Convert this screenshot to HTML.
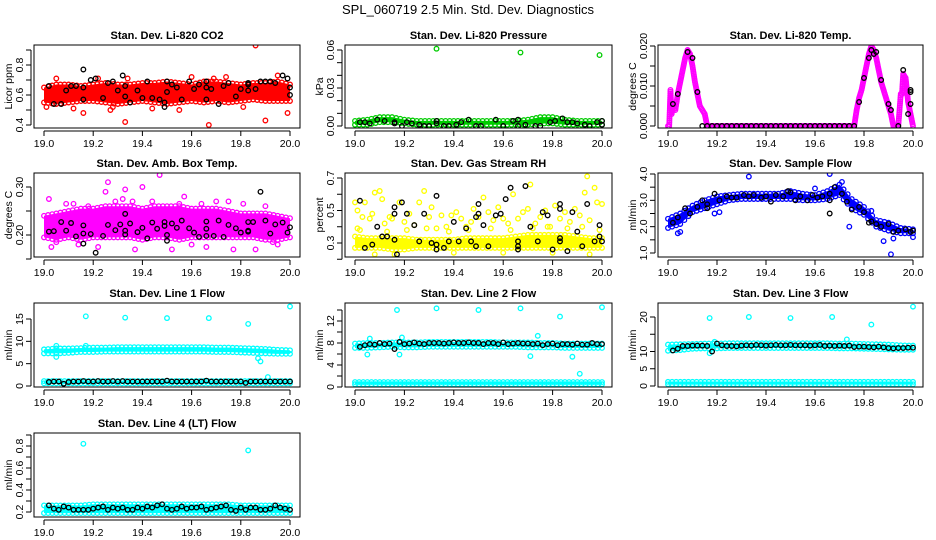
<!DOCTYPE html>
<html><head><meta charset="utf-8">
<style>
html,body{margin:0;padding:0;background:#fff;}
svg{display:block;font-family:"Liberation Sans",Arial,sans-serif;}
</style></head>
<body>
<svg id="chart" width="936" height="540" viewBox="0 0 936 540">
<text x="468" y="14" text-anchor="middle" font-size="13">SPL_060719  2.5 Min. Std. Dev. Diagnostics</text>
</svg>
<script>
const xTicks=[19.0,19.2,19.4,19.6,19.8,20.0];
const xTickLabels=["19.0","19.2","19.4","19.6","19.8","20.0"];
const bandX=[19.0,19.05,19.1,19.15,19.2,19.25,19.3,19.35,19.4,19.45,19.5,19.55,19.6,19.65,19.7,19.75,19.8,19.85,19.9,19.95,20.0];
const gridX=[19.02,19.04,19.06,19.08,19.1,19.12,19.14,19.16,19.18,19.2,19.22,19.24,19.26,19.28,19.3,19.32,19.34,19.36,19.38,19.4,19.42,19.44,19.46,19.48,19.5,19.52,19.54,19.56,19.58,19.6,19.62,19.64,19.66,19.68,19.7,19.72,19.74,19.76,19.78,19.8,19.82,19.84,19.86,19.88,19.9,19.92,19.94,19.96,19.98,20.0];

// Panel 1: CO2
const co2Lo=[0.55,0.54,0.55,0.56,0.56,0.55,0.54,0.55,0.56,0.55,0.54,0.55,0.56,0.55,0.56,0.55,0.56,0.57,0.56,0.56,0.56];
const co2Hi=[0.65,0.67,0.67,0.66,0.67,0.68,0.67,0.67,0.68,0.68,0.69,0.68,0.67,0.69,0.69,0.68,0.67,0.68,0.68,0.69,0.67];
const co2OutX=[19.86,19.33,19.67,19.90,19.99,19.27,19.16,19.95,19.60,19.05,19.34,19.69,19.01,19.28,19.12,19.44,19.55,19.74,19.81,19.22];
const co2OutY=[0.93,0.42,0.40,0.43,0.48,0.50,0.48,0.73,0.72,0.71,0.71,0.71,0.52,0.52,0.51,0.51,0.50,0.72,0.52,0.71];
const co2BlkX=[19.02,19.04,19.07,19.09,19.11,19.13,19.16,19.16,19.16,19.19,19.21,19.24,19.26,19.28,19.30,19.32,19.33,19.33,19.35,19.38,19.40,19.42,19.44,19.47,19.49,19.49,19.50,19.50,19.52,19.54,19.56,19.59,19.61,19.63,19.66,19.66,19.66,19.68,19.71,19.73,19.75,19.78,19.80,19.83,19.83,19.83,19.86,19.88,19.90,19.92,19.94,19.97,19.99,20.0,20.0];
const co2BlkY=[0.66,0.54,0.54,0.63,0.66,0.66,0.77,0.65,0.57,0.70,0.71,0.58,0.68,0.69,0.63,0.73,0.66,0.59,0.55,0.63,0.58,0.69,0.58,0.57,0.55,0.52,0.62,0.69,0.67,0.65,0.57,0.69,0.64,0.67,0.69,0.65,0.57,0.64,0.54,0.66,0.68,0.59,0.64,0.67,0.63,0.68,0.64,0.69,0.69,0.69,0.68,0.73,0.71,0.65,0.60];

// Panel 2: pressure
const prLo=[0.001,0.001,0.003,0.003,0.002,0.001,0.001,0.001,0.001,0.001,0.001,0.001,0.001,0.001,0.001,0.002,0.002,0.001,0.001,0.001,0.001];
const prHi=[0.004,0.005,0.007,0.007,0.005,0.004,0.004,0.004,0.004,0.004,0.004,0.004,0.004,0.004,0.005,0.007,0.007,0.005,0.004,0.004,0.004];
const prOutX=[19.33,19.67,19.99];
const prOutY=[0.061,0.058,0.056];
const prBlkX=[19.02,19.04,19.06,19.09,19.12,19.16,19.16,19.19,19.21,19.23,19.26,19.28,19.30,19.33,19.33,19.36,19.38,19.41,19.43,19.46,19.49,19.51,19.57,19.60,19.64,19.66,19.66,19.69,19.73,19.75,19.79,19.81,19.84,19.86,19.88,19.90,19.93,19.95,19.98,20.0,20.0];
const prBlkY=[0.003,0.003,0.002,0.005,0.004,0.003,0.002,0,0.003,0.002,0.001,0,0,0.002,0.004,0,0,0.001,0.003,0.005,0,0,0.005,0,0.004,0.005,0,0.001,0,0,0.003,0.004,0.006,0.003,0.003,0.002,0.001,0,0.003,0.004,0.001];

// Panel 3: Li-820 temp
const tmpX=[19.0,19.005,19.01,19.015,19.02,19.03,19.04,19.05,19.06,19.07,19.08,19.09,19.10,19.11,19.12,19.13,19.14,19.15,19.16,19.18,19.20,19.22,19.24,19.26,19.28,19.30,19.32,19.34,19.36,19.38,19.40,19.42,19.44,19.46,19.48,19.50,19.52,19.54,19.56,19.58,19.60,19.62,19.64,19.66,19.68,19.70,19.72,19.74,19.76,19.765,19.77,19.78,19.79,19.80,19.81,19.82,19.83,19.84,19.85,19.86,19.87,19.88,19.89,19.90,19.91,19.92,19.93,19.94,19.95,19.955,19.96,19.97,19.975,19.98,19.99,20.0];
const tmpY=[0,0,0.009,0.003,0.005,0.004,0.008,0.011,0.014,0.017,0.019,0.018,0.015,0.011,0.008,0.005,0.004,0.003,0,0,0,0,0,0,0,0,0,0,0,0,0,0,0,0,0,0,0,0,0,0,0,0,0,0,0,0,0,0,0,0.002,0.004,0.007,0.009,0.012,0.015,0.018,0.020,0.019,0.017,0.014,0.011,0.009,0.007,0.005,0.003,0,0,0,0.008,0.008,0.013,0.012,0.009,0.006,0.003,0];
const tmpBlkX=[19.02,19.04,19.08,19.10,19.12,19.14,19.16,19.18,19.20,19.22,19.24,19.26,19.28,19.30,19.32,19.34,19.36,19.38,19.40,19.42,19.44,19.46,19.48,19.50,19.52,19.54,19.56,19.58,19.60,19.62,19.64,19.66,19.68,19.70,19.72,19.74,19.76,19.78,19.80,19.82,19.83,19.84,19.85,19.87,19.90,19.91,19.94,19.96,19.99,19.99,19.99,19.98];
const tmpBlkY=[0.0055,0.008,0.0185,0.017,0.0085,0,0,0,0,0,0,0,0,0,0,0,0,0,0,0,0,0,0,0,0,0,0,0,0,0,0,0,0,0,0,0,0,0.006,0.012,0.017,0.019,0.018,0.0185,0.0115,0.0055,0.004,0,0.014,0.009,0.0085,0.0055,0.003];

// Panel 4: amb box temp
const ambLo=[0.195,0.19,0.195,0.19,0.195,0.195,0.195,0.195,0.19,0.195,0.195,0.19,0.195,0.195,0.195,0.195,0.195,0.195,0.19,0.19,0.195];
const ambHi=[0.24,0.245,0.25,0.255,0.255,0.26,0.26,0.26,0.255,0.26,0.26,0.26,0.255,0.255,0.255,0.25,0.245,0.245,0.245,0.24,0.235];
const ambOutX=[19.02,19.09,19.18,19.25,19.26,19.33,19.40,19.47,19.32,19.37,19.52,19.57,19.66,19.75,19.77,19.86,19.90,19.03,19.22,19.05,19.14,19.29,19.44,19.60,19.70,19.81,19.95,19.12,19.36,19.55,19.64,19.93];
const ambOutY=[0.275,0.265,0.26,0.29,0.31,0.295,0.30,0.325,0.275,0.17,0.17,0.28,0.175,0.27,0.17,0.17,0.26,0.175,0.175,0.185,0.18,0.27,0.27,0.18,0.27,0.265,0.18,0.265,0.27,0.265,0.265,0.185];
const ambBlkX=[19.02,19.04,19.07,19.09,19.11,19.13,19.16,19.16,19.16,19.19,19.21,19.24,19.26,19.29,19.31,19.33,19.33,19.33,19.35,19.38,19.40,19.42,19.44,19.46,19.49,19.49,19.50,19.50,19.52,19.54,19.56,19.59,19.61,19.63,19.66,19.66,19.66,19.69,19.71,19.73,19.75,19.78,19.80,19.83,19.83,19.83,19.85,19.88,19.90,19.92,19.94,19.97,19.99,20.0];
const ambBlkY=[0.207,0.208,0.227,0.209,0.225,0.197,0.22,0.203,0.182,0.202,0.163,0.198,0.221,0.21,0.222,0.244,0.209,0.201,0.224,0.206,0.215,0.193,0.226,0.213,0.227,0.219,0.2,0.188,0.224,0.215,0.23,0.214,0.205,0.196,0.228,0.213,0.198,0.198,0.23,0.196,0.221,0.214,0.205,0.227,0.209,0.207,0.227,0.29,0.23,0.203,0.222,0.226,0.205,0.216];

// Panel 5: RH
const rhLo=[0.27,0.27,0.27,0.26,0.26,0.27,0.27,0.27,0.27,0.27,0.27,0.27,0.27,0.27,0.27,0.27,0.27,0.27,0.27,0.27,0.27];
const rhHi=[0.34,0.33,0.33,0.33,0.33,0.32,0.32,0.32,0.32,0.33,0.33,0.33,0.33,0.34,0.35,0.35,0.35,0.35,0.34,0.33,0.33];
const rhOutX=[19.00,19.01,19.01,19.03,19.04,19.06,19.07,19.08,19.10,19.11,19.12,19.14,19.15,19.18,19.20,19.22,19.24,19.26,19.28,19.30,19.31,19.33,19.35,19.37,19.39,19.41,19.43,19.45,19.47,19.48,19.50,19.52,19.54,19.56,19.58,19.60,19.62,19.64,19.66,19.68,19.70,19.71,19.73,19.75,19.77,19.79,19.81,19.83,19.85,19.87,19.89,19.91,19.93,19.94,19.95,19.97,19.98,20.0,19.08,19.16,19.40,19.60,19.80,19.95,19.02,19.13,19.21,19.29,19.38,19.46,19.55,19.63,19.72,19.78,19.86,19.92,19.99];
const rhOutY=[0.55,0.50,0.39,0.46,0.55,0.45,0.48,0.61,0.62,0.57,0.42,0.46,0.45,0.55,0.43,0.48,0.41,0.55,0.62,0.46,0.52,0.39,0.47,0.40,0.47,0.49,0.45,0.40,0.43,0.51,0.46,0.58,0.49,0.44,0.52,0.45,0.42,0.60,0.45,0.49,0.51,0.66,0.42,0.46,0.50,0.40,0.53,0.45,0.49,0.43,0.51,0.47,0.61,0.71,0.44,0.64,0.55,0.54,0.23,0.23,0.24,0.24,0.24,0.23,0.38,0.37,0.38,0.39,0.37,0.38,0.39,0.38,0.39,0.40,0.39,0.40,0.38];
const rhBlkX=[19.02,19.04,19.07,19.09,19.11,19.13,19.16,19.16,19.16,19.17,19.19,19.21,19.24,19.26,19.28,19.31,19.33,19.33,19.33,19.36,19.38,19.40,19.42,19.45,19.47,19.49,19.49,19.50,19.50,19.52,19.54,19.57,19.59,19.61,19.63,19.66,19.66,19.66,19.69,19.71,19.74,19.76,19.78,19.80,19.83,19.83,19.83,19.83,19.86,19.88,19.90,19.92,19.94,19.97,19.99,19.99,20.0];
const rhBlkY=[0.56,0.27,0.29,0.40,0.34,0.34,0.52,0.48,0.32,0.23,0.55,0.48,0.41,0.31,0.48,0.30,0.59,0.29,0.26,0.27,0.31,0.43,0.31,0.39,0.31,0.46,0.28,0.48,0.54,0.41,0.28,0.47,0.48,0.57,0.64,0.31,0.28,0.26,0.65,0.40,0.31,0.49,0.47,0.26,0.54,0.51,0.33,0.31,0.25,0.49,0.37,0.28,0.54,0.31,0.41,0.34,0.31];

// Panel 6: sample flow
const sfLo=[1.95,2.1,2.55,2.7,2.85,3.0,3.05,3.05,3.05,3.05,3.05,3.0,3.0,3.05,3.2,2.7,2.45,2.0,1.85,1.75,1.75];
const sfHi=[2.3,2.5,2.8,3.0,3.15,3.2,3.25,3.25,3.25,3.25,3.35,3.25,3.2,3.35,3.6,3.05,2.75,2.25,2.15,1.95,1.9];
const sfOutX=[19.33,19.66,19.71,19.04,19.05,19.19,19.21,19.74,19.83,19.88,19.91,19.92,20.0,19.6];
const sfOutY=[3.9,4.0,3.7,1.75,1.8,2.5,2.55,2.0,2.6,1.45,0.95,1.55,1.6,3.45];
const sfBlkX=[19.02,19.04,19.07,19.09,19.12,19.14,19.16,19.16,19.19,19.21,19.24,19.26,19.28,19.31,19.33,19.35,19.38,19.40,19.42,19.44,19.47,19.49,19.50,19.52,19.54,19.57,19.59,19.61,19.63,19.66,19.66,19.66,19.68,19.71,19.73,19.75,19.78,19.80,19.82,19.83,19.85,19.87,19.90,19.92,19.94,19.97,19.99,20.0];
const sfBlkY=[2.15,2.35,2.7,2.5,2.75,3.0,2.85,2.7,3.25,3.0,3.15,3.1,3.1,3.2,3.15,3.2,3.1,3.15,2.95,3.2,3.15,3.35,3.3,3.0,3.15,3.0,3.2,3.1,3.15,3.25,2.5,3.0,3.5,3.25,2.95,2.65,2.75,2.55,2.15,2.2,2.1,2.0,2.1,1.8,1.85,1.9,1.8,1.85];

// Panel 7: Line 1
const l1aLo=[7.3,7.3,7.4,7.6,7.6,7.7,7.7,7.7,7.7,7.7,7.7,7.7,7.7,7.7,7.6,7.6,7.5,7.4,7.3,7.2,7.2];
const l1aHi=[8.2,8.4,8.4,8.5,8.6,8.6,8.7,8.7,8.7,8.7,8.7,8.7,8.7,8.7,8.6,8.6,8.5,8.4,8.3,8.1,8.0];
const l1bLo=[0.6,0.6,0.6,0.6,0.6,0.6,0.6,0.6,0.6,0.6,0.6,0.6,0.6,0.6,0.6,0.6,0.6,0.6,0.6,0.6,0.6];
const l1bHi=[1.1,1.1,1.1,1.1,1.1,1.1,1.1,1.1,1.1,1.1,1.1,1.1,1.1,1.1,1.1,1.1,1.1,1.1,1.1,1.1,1.1];
const l1OutX=[19.17,19.33,19.5,19.67,19.83,20.0,19.05,19.88,19.87,19.91,19.05,19.17];
const l1OutY=[15.6,15.3,15.2,15.2,13.9,17.8,6.5,5.5,6.2,2.0,9.0,9.0];
const l1BlkY=[0.9,1.0,1.0,0.5,0.9,1.0,1.0,1.1,1.0,1.0,1.1,1.0,1.0,1.1,1.0,1.1,1.0,1.0,1.0,1.0,1.0,1.0,1.0,1.0,1.2,1.0,1.0,1.0,1.0,1.0,1.0,1.0,1.2,1.0,1.0,1.0,1.0,1.0,1.0,1.0,0.7,1.0,1.0,1.0,1.0,1.0,1.0,1.0,1.0,1.0];

// Panel 8: Line 2
const l2aLo=[7.1,7.1,7.2,7.3,7.2,7.2,7.3,7.3,7.3,7.3,7.3,7.3,7.3,7.3,7.2,7.2,7.2,7.1,7.1,7.1,7.1];
const l2aHi=[7.9,8.0,8.0,8.1,8.1,8.1,8.2,8.2,8.2,8.2,8.2,8.2,8.1,8.1,8.1,8.0,8.0,7.9,7.9,7.9,7.9];
const l2bLo=[0.5,0.5,0.5,0.5,0.5,0.5,0.5,0.5,0.5,0.5,0.5,0.5,0.5,0.5,0.5,0.5,0.5,0.5,0.5,0.5,0.5];
const l2bHi=[0.9,0.9,0.9,0.9,0.9,0.9,0.9,0.9,0.9,0.9,0.9,0.9,0.9,0.9,0.9,0.9,0.9,0.9,0.9,0.9,0.9];
const l2OutX=[19.17,19.33,19.5,19.67,19.83,20.0,19.05,19.06,19.18,19.19,19.71,19.74,19.88,19.91];
const l2OutY=[14.0,14.3,14.0,14.3,12.8,14.5,5.9,8.8,5.9,9.0,5.6,9.3,5.5,2.4];
const l2BlkY=[7.3,7.6,7.8,7.7,8.0,7.8,7.9,6.9,8.2,7.8,7.9,8.1,7.9,7.8,8.0,8.0,8.0,7.9,8.0,8.1,8.0,8.0,8.1,8.0,8.0,7.8,8.0,8.0,7.8,8.1,7.8,7.9,8.0,7.9,7.9,7.8,7.9,7.6,7.8,7.9,7.6,7.8,7.8,7.7,7.9,7.7,7.7,8.0,7.8,7.8];

// Panel 9: Line 3
const l3aLo=[10.2,10.4,10.8,10.9,10.9,11.0,11.0,11.0,11.0,11.0,11.0,11.0,11.0,11.0,10.9,10.9,10.8,10.7,10.6,10.5,10.5];
const l3aHi=[12.0,12.1,12.2,12.3,12.3,12.4,12.4,12.4,12.4,12.4,12.4,12.4,12.4,12.4,12.3,12.3,12.2,12.1,12.0,11.8,11.7];
const l3bLo=[0.5,0.5,0.5,0.5,0.5,0.5,0.5,0.5,0.5,0.5,0.5,0.5,0.5,0.5,0.5,0.5,0.5,0.5,0.5,0.5,0.5];
const l3bHi=[1.2,1.2,1.2,1.2,1.2,1.2,1.2,1.2,1.2,1.2,1.2,1.2,1.2,1.2,1.2,1.2,1.2,1.2,1.2,1.2,1.2];
const l3OutX=[19.17,19.33,19.5,19.67,19.83,20.0,19.17,19.19,19.73];
const l3OutY=[19.7,20.0,19.7,20.0,17.8,23.0,9.5,12.8,13.5];
const l3BlkY=[10.3,10.8,11.6,11.6,11.7,11.7,11.7,11.6,10.0,12.3,11.8,11.6,11.6,11.5,11.7,11.8,11.7,11.9,11.8,11.7,11.8,11.9,11.8,11.8,11.9,11.8,11.8,11.8,11.7,11.8,11.9,11.6,11.7,11.6,11.7,11.6,11.7,11.3,11.4,11.4,11.3,11.2,11.4,11.2,11.0,10.9,11.0,11.0,11.1,11.1];

// Panel 10: Line 4
const l4Lo=[0.19,0.19,0.19,0.19,0.19,0.19,0.19,0.19,0.19,0.19,0.19,0.19,0.19,0.19,0.19,0.19,0.19,0.19,0.19,0.19,0.19];
const l4Hi=[0.26,0.26,0.26,0.26,0.27,0.27,0.27,0.27,0.27,0.27,0.27,0.27,0.27,0.27,0.27,0.27,0.26,0.26,0.26,0.26,0.26];
const l4OutX=[19.16,19.5,19.83];
const l4OutY=[0.82,0.94,0.76];
const l4BlkY=[0.26,0.23,0.22,0.25,0.24,0.22,0.22,0.22,0.22,0.23,0.24,0.25,0.22,0.24,0.23,0.24,0.22,0.22,0.24,0.23,0.25,0.24,0.26,0.27,0.23,0.22,0.23,0.25,0.23,0.24,0.24,0.25,0.22,0.23,0.24,0.25,0.26,0.22,0.21,0.24,0.22,0.24,0.24,0.22,0.22,0.23,0.26,0.24,0.23,0.22];

const NS="http://www.w3.org/2000/svg";
const svg=document.getElementById('chart');
function mk(tag,attrs,parent){const e=document.createElementNS(NS,tag);for(const k in attrs)e.setAttribute(k,attrs[k]);(parent||svg).appendChild(e);return e;}

const cols=[[34,300],[345,612],[658,923]];
const rows=[[45,128],[173,257],[303,387],[433,517]];
const RAD=2.3, SW=1.3;

function panel(o){
  const [L,R]=cols[o.c],[T,B]=rows[o.r];
  const g=mk('g',{});
  
  
  const xs=v=>L+10+(v-19)*(R-L-20);
  const ys=v=>o.cal[1]+(v-o.cal[0])*(o.cal[3]-o.cal[1])/(o.cal[2]-o.cal[0]);
  const clip='clip'+o.name;
  const cp=mk('clipPath',{id:clip},g);mk('rect',{x:L,y:T,width:R-L,height:B-T},cp);
  const pg=mk('g',{'clip-path':'url(#'+clip+')'},g);
  (o.bands||[]).forEach(([lo,hi])=>{
    let pts=bandX.map((x,i)=>xs(x)+','+ys(hi[i]));
    pts=pts.concat(bandX.map((x,i)=>xs(x)+','+ys(lo[i])).reverse());
    const p=mk('polygon',{points:pts.join(' '),fill:o.color},pg);
    
    
    for(let i=0;i<bandX.length;i++){
      for(let k=0;k<3;k++){
        const x0=bandX[i]+k*0.0167; if(x0>20.001)continue;
        const j=Math.min(i+1,bandX.length-1),f=k/3;
        const l=lo[i]+(lo[j]-lo[i])*f,h=hi[i]+(hi[j]-hi[i])*f;
        [l,h].forEach(v=>{const c=mk('circle',{cx:xs(x0),cy:ys(v),r:RAD,fill:'none',stroke:o.color,'stroke-width':SW},pg);
          
          });
      }
    }
  });
  const pts=(X,Y,col,nm)=>X.forEach((x,i)=>{const c=mk('circle',{cx:xs(x),cy:ys(Y[i]),r:RAD,fill:'none',stroke:col,'stroke-width':SW},pg);
    
    });
  if(o.pts){
    const X=o.pts[0],Y=o.pts[1];
    // dense fill between consecutive readings
    for(let i=0;i<X.length-1;i++){
      const px=xs(X[i]),py=ys(Y[i]),qx=xs(X[i+1]),qy=ys(Y[i+1]);
      const n=Math.max(1,Math.ceil(Math.hypot(qx-px,qy-py)/2));
      for(let k=1;k<n;k++){const c=mk('circle',{cx:px+(qx-px)*k/n,cy:py+(qy-py)*k/n,r:RAD,fill:'none',stroke:o.color,'stroke-width':SW},pg);
        
        }
    }
    pts(X,Y,o.color,'series-point');
  }
  if(o.out)pts(o.out[0],o.out[1],o.color,'outlier-point');
  if(o.blk)pts(o.blk[0],o.blk[1],'#000','reference-point');
  const box=mk('rect',{x:L,y:T,width:R-L,height:B-T,fill:'none',stroke:'#000','stroke-width':1},g);
  
  
  const t=mk('text',{x:(L+R)/2,y:T-6,'text-anchor':'middle','font-size':11,'font-weight':'bold'},g);t.textContent=o.title;
  
  
  mk('line',{x1:xs(19),x2:xs(20),y1:B+3,y2:B+3,stroke:'#000'},g);
  xTicks.forEach((v,i)=>{mk('line',{x1:xs(v),x2:xs(v),y1:B+3,y2:B+8,stroke:'#000'},g);
    const tx=mk('text',{x:xs(v),y:B+19,'text-anchor':'middle','font-size':10.5},g);tx.textContent=xTickLabels[i];
    
    });
  const yt=o.yTicks;
  mk('line',{x1:L-3,x2:L-3,y1:ys(yt[0]),y2:ys(yt[yt.length-1]),stroke:'#000'},g);
  yt.forEach(v=>mk('line',{x1:L-8,x2:L-3,y1:ys(v),y2:ys(v),stroke:'#000'},g));
  o.yLabels.forEach(v=>{const yy=ys(v);const tx=mk('text',{x:L-11,y:yy,'text-anchor':'middle','font-size':10.5,transform:'rotate(-90 '+(L-11)+' '+yy+')'},g);
    tx.textContent=o.fmt(v);
    
    });
  const ym=(T+B)/2;
  const yl=mk('text',{x:L-22,y:ym,'text-anchor':'middle','font-size':10.5,transform:'rotate(-90 '+(L-22)+' '+ym+')'},g);yl.textContent=o.ylab;
  
  
}
const f=d=>v=>v.toFixed(d);
panel({name:'panel-co2',c:0,r:0,title:'Stan. Dev. Li-820 CO2',ylab:'Licor ppm',color:'#ff0000',cal:[0.4,125,0.8,65],yTicks:[0.4,0.5,0.6,0.7,0.8,0.9],yLabels:[0.4,0.6,0.8],fmt:f(1),bands:[[co2Lo,co2Hi]],out:[co2OutX,co2OutY],blk:[co2BlkX,co2BlkY]});
panel({name:'panel-pressure',c:1,r:0,title:'Stan. Dev. Li-820 Pressure',ylab:'kPa',color:'#00cc00',cal:[0,126,0.06,50],yTicks:[0,0.01,0.02,0.03,0.04,0.05,0.06],yLabels:[0,0.03,0.06],fmt:f(2),bands:[[prLo,prHi]],out:[prOutX,prOutY],blk:[prBlkX,prBlkY]});
panel({name:'panel-li820-temp',c:2,r:0,title:'Stan. Dev. Li-820 Temp.',ylab:'degrees C',color:'#ff00ff',cal:[0,126,0.02,46],yTicks:[0,0.005,0.01,0.015,0.02],yLabels:[0,0.01,0.02],fmt:f(3),pts:[tmpX,tmpY],blk:[tmpBlkX,tmpBlkY]});
panel({name:'panel-amb-temp',c:0,r:1,title:'Stan. Dev. Amb. Box Temp.',ylab:'degrees C',color:'#ff00ff',cal:[0.2,235,0.3,187],yTicks:[0.15,0.2,0.25,0.3],yLabels:[0.2,0.3],fmt:f(2),bands:[[ambLo,ambHi]],out:[ambOutX,ambOutY],blk:[ambBlkX,ambBlkY]});
panel({name:'panel-rh',c:1,r:1,title:'Stan. Dev. Gas Stream RH',ylab:'percent',color:'#ffff00',cal:[0.3,243,0.7,178],yTicks:[0.2,0.3,0.4,0.5,0.6,0.7],yLabels:[0.3,0.5,0.7],fmt:f(1),bands:[[rhLo,rhHi]],out:[rhOutX,rhOutY],blk:[rhBlkX,rhBlkY]});
panel({name:'panel-sample-flow',c:2,r:1,title:'Stan. Dev. Sample Flow',ylab:'ml/min',color:'#0000ff',cal:[1,253,4,174],yTicks:[1,1.5,2,2.5,3,3.5,4],yLabels:[1,2,3,4],fmt:f(1),bands:[[sfLo,sfHi]],out:[sfOutX,sfOutY],blk:[sfBlkX,sfBlkY]});
panel({name:'panel-line1',c:0,r:2,title:'Stan. Dev. Line 1 Flow',ylab:'ml/min',color:'#00ffff',cal:[0,386,15,319],yTicks:[0,5,10,15],yLabels:[0,5,10,15],fmt:f(0),bands:[[l1aLo,l1aHi],[l1bLo,l1bHi]],out:[l1OutX,l1OutY],blk:[gridX,l1BlkY]});
panel({name:'panel-line2',c:1,r:2,title:'Stan. Dev. Line 2 Flow',ylab:'ml/min',color:'#00ffff',cal:[0,387,12,321],yTicks:[0,2,4,6,8,10,12,14],yLabels:[0,4,8,12],fmt:f(0),bands:[[l2aLo,l2aHi],[l2bLo,l2bHi]],out:[l2OutX,l2OutY],blk:[gridX,l2BlkY]});
panel({name:'panel-line3',c:2,r:2,title:'Stan. Dev. Line 3 Flow',ylab:'ml/min',color:'#00ffff',cal:[0,386,20,317],yTicks:[0,5,10,15,20],yLabels:[0,5,10,20],fmt:f(0),bands:[[l3aLo,l3aHi],[l3bLo,l3bHi]],out:[l3OutX,l3OutY],blk:[gridX,l3BlkY]});
panel({name:'panel-line4',c:0,r:3,title:'Stan. Dev. Line 4 (LT) Flow',ylab:'ml/min',color:'#00ffff',cal:[0.2,512,0.8,446],yTicks:[0.2,0.3,0.4,0.5,0.6,0.7,0.8,0.9],yLabels:[0.2,0.4,0.6,0.8],fmt:f(1),bands:[[l4Lo,l4Hi]],out:[l4OutX,l4OutY],blk:[gridX,l4BlkY]});
</script>
</body></html>
